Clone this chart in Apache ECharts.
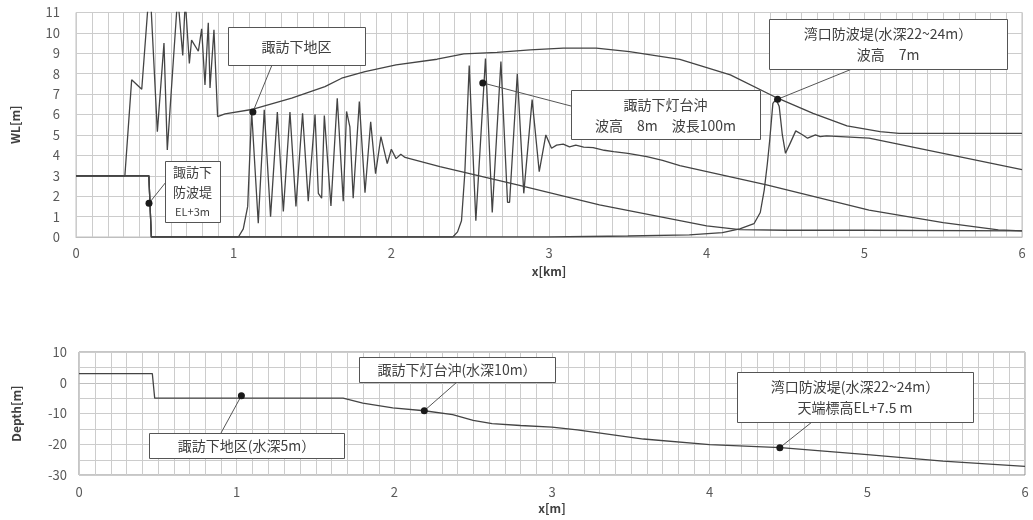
<!DOCTYPE html>
<html><head><meta charset="utf-8">
<script src="https://cdn.jsdelivr.net/npm/echarts@6/dist/echarts.min.js"></script>
<style>html,body{margin:0;padding:0;background:#fff}#c{width:1033px;height:520px}</style>
</head><body><div id="c"></div>
<script>
// ---------- DATA ----------
// Top chart: water level WL[m] vs x[km]
const wlEnvelope = [[0,3],[0.31,3],[0.353,7.7],[0.417,7.24],[0.468,12.5],[0.516,5.16],[0.558,9.5],[0.579,4.26],[0.645,11.8],[0.677,8.9],[0.693,11.6],[0.719,8.5],[0.733,9.65],[0.776,9.1],[0.797,10.2],[0.818,7.45],[0.839,10.5],[0.85,7.3],[0.875,10.15],[0.898,5.9],[0.945,6.03],[1.124,6.26],[1.368,6.8],[1.579,7.37],[1.685,7.78],[1.833,8.1],[2.03,8.43],[2.29,8.71],[2.46,8.97],[2.67,9.05],[2.88,9.17],[3.09,9.25],[3.3,9.25],[3.51,9.08],[3.83,8.7],[4.15,7.94],[4.45,6.8],[4.675,6.06],[4.89,5.44],[5.1,5.16],[5.22,5.08],[6,5.08]];
const wlNearShore = [[0,3],[0.462,3],[0.478,0],[1.03,0],[1.061,0.4],[1.089,1.5],[1.114,6.15],[1.156,0.67],[1.194,6.23],[1.234,1.0],[1.277,6.12],[1.315,1.25],[1.357,6.12],[1.395,1.5],[1.437,6.06],[1.473,1.75],[1.516,6.0],[1.537,2.14],[1.558,1.9],[1.575,5.95],[1.617,1.52],[1.657,6.8],[1.695,1.75],[1.716,6.15],[1.737,5.4],[1.758,1.9],[1.797,6.64],[1.833,2.17],[1.869,5.65],[1.9,3.1],[1.934,4.92],[1.974,3.6],[2.0,4.3],[2.03,3.84],[2.06,4.05],[2.087,3.9],[2.308,3.45],[2.8,2.55],[3.32,1.57],[3.83,0.8],[4.0,0.55],[4.21,0.36],[4.5,0.33],[5.0,0.33],[6.0,0.3]];
const wlLighthouse = [[0,3],[0.462,3],[0.478,0],[2.39,0],[2.42,0.25],[2.445,0.8],[2.466,3.12],[2.494,8.4],[2.536,0.8],[2.597,8.75],[2.64,1.2],[2.695,8.6],[2.737,1.7],[2.75,1.7],[2.799,8.0],[2.84,2.14],[2.893,6.73],[2.938,3.2],[2.98,5.0],[3.016,4.35],[3.048,4.5],[3.09,4.55],[3.13,4.42],[3.17,4.5],[3.22,4.4],[3.28,4.38],[3.35,4.25],[3.41,4.18],[3.5,4.1],[3.62,3.94],[3.72,3.75],[3.83,3.5],[4.38,2.55],[5.03,1.32],[5.5,0.7],[5.85,0.35],[6,0.3]];
const wlBayMouth = [[0,3],[0.462,3],[0.478,0],[3.0,0],[3.5,0.05],[3.89,0.1],[4.1,0.21],[4.21,0.4],[4.3,0.65],[4.34,1.2],[4.365,2.3],[4.385,3.6],[4.4,4.75],[4.42,6.55],[4.44,6.75],[4.46,6.4],[4.48,5.0],[4.5,4.1],[4.53,4.6],[4.565,5.2],[4.61,5.0],[4.64,4.84],[4.69,5.0],[4.72,4.92],[4.76,4.95],[5.03,4.84],[5.5,4.1],[6,3.3]];
// Bottom chart: bed profile Depth[m] vs x
const depthProfile = [[0,3],[0.465,3],[0.48,-5],[1.675,-5],[1.8,-6.6],[1.99,-8.2],[2.19,-9.1],[2.37,-10.4],[2.5,-12.2],[2.62,-13.3],[2.8,-13.9],[3.0,-14.4],[3.16,-15.3],[3.58,-18.3],[4.0,-20.1],[4.45,-21.1],[5.0,-23.4],[5.48,-25.5],[6.0,-27.2]];
// Axis ticks
const xTicks = {min:0, max:6, step:1, minorPerStep:10};
const wlTicks = {min:0, max:11, step:1};
const depthTicks = {min:-30, max:10, step:10, minorPerStep:2};
// Annotations (anchor point in data units + text)
const topNotes = [
  {x:0.463, y:1.65, text:'{a|諏訪下}\n{a|防波堤}\n{b|EL+3m}'},
  {x:1.122, y:6.13, text:'諏訪下地区'},
  {x:2.58, y:7.55, text:'諏訪下灯台沖\n波高　8m　波長100m'},
  {x:4.45, y:6.75, text:'湾口防波堤(水深22~24m）\n波高　7m'}
];
const bottomNotes = [
  {x:1.03, y:-4.2, text:'諏訪下地区(水深5m）'},
  {x:2.19, y:-9.1, text:'諏訪下灯台沖(水深10m）'},
  {x:4.445, y:-21.1, text:'湾口防波堤(水深22~24m）\n天端標高EL+7.5 m'}
];
// ---------- LAYOUT ----------
const topBoxes = [
  {x:165, y:161, w:55, h:61, lx:166, ly:182},
  {x:228, y:27, w:137, h:38, lx:272, ly:65},
  {x:571, y:90, w:189, h:49, lx:571, ly:106},
  {x:769, y:19, w:238, h:50, lx:852, ly:69}
];
const bottomBoxes = [
  {x:149, y:433, w:195, h:25, lx:221, ly:433},
  {x:359, y:357, w:196, h:25, lx:457, ly:382},
  {x:737, y:372, w:236, h:50, lx:812, ly:422}
];

const FONT = "'Noto Sans CJK JP', 'Noto Sans', sans-serif";
const LINE = '#444444';
const GRIDC = '#cccccc';
const chart = echarts.init(document.getElementById('c'), null, {renderer:'canvas'});

function xAx(gi, name, labelMargin, nameGap) {
  return {
    type:'value', gridIndex:gi, min:xTicks.min, max:xTicks.max, interval:xTicks.step,
    name:name, nameLocation:'middle', nameGap:nameGap,
    nameTextStyle:{fontFamily:FONT, fontSize:12, fontWeight:'bold', color:'#404040'},
    axisLine:{show:true, lineStyle:{color:'#bfbfbf', width:1}},
    axisTick:{show:false},
    axisLabel:{fontFamily:FONT, fontSize:13, color:'#595959', margin:labelMargin},
    splitLine:{show:true, lineStyle:{color:GRIDC, width:1}}
  };
}
function yAx(gi, t, name, labelMargin, nameGap) {
  return {
    type:'value', gridIndex:gi, min:t.min, max:t.max, interval:t.step, position:'left',
    name:name, nameLocation:'middle', nameGap:nameGap, nameRotate:90,
    nameTextStyle:{fontFamily:FONT, fontSize:12, fontWeight:'bold', color:'#404040'},
    axisLine:{show:false}, axisTick:{show:false},
    axisLabel:{fontFamily:FONT, fontSize:13, color:'#595959', margin:labelMargin},
    splitLine:{show:true, lineStyle:{color:GRIDC, width:1}}
  };
}
function lineSeries(data, xi, yi) {
  return {type:'line', xAxisIndex:xi, yAxisIndex:yi, data:data, showSymbol:false, symbol:'none',
    lineStyle:{color:LINE, width:1.3}, clip:true, animation:false, silent:true, z:5};
}

chart.setOption({
  animation:false,
  backgroundColor:'#ffffff',
  grid:[
    {left:76, top:12.5, width:946, height:224.5, show:true, borderColor:'#c0c0c0', borderWidth:1},
    {left:79, top:352, width:946, height:123, show:true, borderColor:'#8c8c8c', borderWidth:1}
  ],
  xAxis:[xAx(0,'x[km]',10,28), xAx(1,'x[m]',11,27)],
  yAxis:[yAx(0,wlTicks,'WL[m]',16,55), yAx(1,depthTicks,'Depth[m]',12,57)],
  series:[
    lineSeries(wlEnvelope,0,0),
    lineSeries(wlNearShore,0,0),
    lineSeries(wlLighthouse,0,0),
    lineSeries(wlBayMouth,0,0),
    lineSeries(depthProfile,1,1)
  ]
});

const px = (gi, x, y) => chart.convertToPixel({xAxisIndex:gi, yAxisIndex:gi}, [x, y]);

// fine grid lines between the labelled ticks, positioned through the axes
function fineGrid(gi, yT) {
  const els = [];
  const nx = (xTicks.max - xTicks.min) / xTicks.step * xTicks.minorPerStep;
  const top = px(gi, xTicks.min, yT.max)[1], bot = px(gi, xTicks.min, yT.min)[1];
  for (let k = 1; k < nx; k++) {
    if (k % xTicks.minorPerStep === 0) continue;
    const xv = xTicks.min + k * xTicks.step / xTicks.minorPerStep;
    const X = Math.round(px(gi, xv, yT.min)[0]) + 0.5;
    els.push({type:'line', z:1, silent:true, shape:{x1:X, y1:top, x2:X, y2:bot}, style:{stroke:GRIDC, lineWidth:1}});
  }
  if (yT.minorPerStep) {
    const ny = (yT.max - yT.min) / yT.step * yT.minorPerStep;
    const l = px(gi, xTicks.min, yT.min)[0], r = px(gi, xTicks.max, yT.min)[0];
    for (let k = 1; k < ny; k++) {
      if (k % yT.minorPerStep === 0) continue;
      const yv = yT.min + k * yT.step / yT.minorPerStep;
      const Y = Math.round(px(gi, xTicks.min, yv)[1]) + 0.5;
      els.push({type:'line', z:1, silent:true, shape:{x1:l, y1:Y, x2:r, y2:Y}, style:{stroke:GRIDC, lineWidth:1}});
    }
  }
  return els;
}

function buildNotes(gi, notes, boxes) {
  const els = [];
  notes.forEach((n, i) => {
    const p = px(gi, n.x, n.y);
    const b = boxes[i];
    els.push({type:'line', z:10, shape:{x1:p[0], y1:p[1], x2:b.lx, y2:b.ly}, style:{stroke:'#555', lineWidth:1}});
    els.push({type:'rect', z:11, shape:{x:b.x+0.5, y:b.y+0.5, width:b.w, height:b.h}, style:{fill:'#fff', stroke:'#555', lineWidth:1}});
    els.push({type:'text', z:12, x:b.x+b.w/2, y:b.y+b.h/2+0.5, style:{
      text:n.text, align:'center', verticalAlign:'middle', fill:'#404040',
      fontFamily:FONT, fontSize:14, lineHeight:21,
      rich:{a:{fontFamily:FONT, fontSize:13, lineHeight:20, fill:'#404040'}, b:{fontFamily:FONT, fontSize:11, lineHeight:20, fill:'#404040'}}
    }});
    els.push({type:'circle', z:13, shape:{cx:p[0], cy:p[1], r:3.5}, style:{fill:'#1a1a1a'}});
  });
  return els;
}
chart.setOption({graphic:{elements:
  fineGrid(0, wlTicks).concat(fineGrid(1, depthTicks))
  .concat(buildNotes(0, topNotes, topBoxes)).concat(buildNotes(1, bottomNotes, bottomBoxes))}});
</script></body></html>
